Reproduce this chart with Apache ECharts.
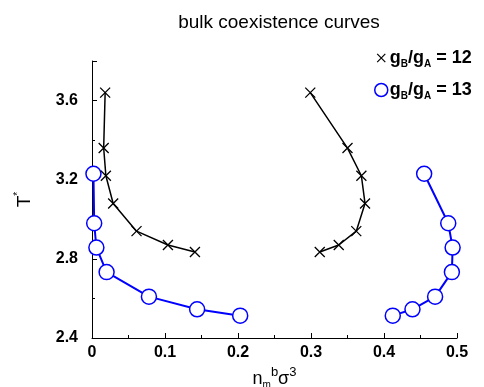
<!DOCTYPE html>
<html><head><meta charset="utf-8">
<script src="https://cdn.jsdelivr.net/npm/echarts@6/dist/echarts.min.js"></script>
<style>html,body{margin:0;padding:0;background:#fff}#c{width:484px;height:387px}</style>
</head><body><div id="c"></div>
<script>
// g_B/g_A = 12 (black crosses)
const T12 = [3.64, 3.36, 3.22, 3.08, 2.94, 2.87, 2.835];
const n12Left = [0.018, 0.016, 0.019, 0.029, 0.061, 0.104, 0.141];
const n12Right = [0.299, 0.350, 0.369, 0.374, 0.362, 0.338, 0.312];
// g_B/g_A = 13 (blue circles)
const T13 = [3.23, 2.98, 2.857, 2.733, 2.609, 2.545, 2.513];
const n13Left = [0.002, 0.003, 0.006, 0.020, 0.078, 0.144, 0.203];
const n13Right = [0.455, 0.488, 0.494, 0.493, 0.470, 0.439, 0.412];
const xTicks = [0, 0.1, 0.2, 0.3, 0.4, 0.5];
const yTicks = [2.4, 2.8, 3.2, 3.6];

const pairs = (xs, ys) => xs.map((x, i) => [x, ys[i]]);
const FONT = 'Liberation Sans';
const crossPath = 'path://M0,0L10,10M10,0L0,10';
const crossIcon = 'path://M-3,-3M0,0L10,10M10,0L0,10M13,13';
const name12 = 'g12', name13 = 'g13';

const crossSeries = (data) => ({
  name: name12, type: 'line', data,
  symbol: crossPath, symbolSize: 10, showSymbol: true,
  lineStyle: { color: '#000', width: 1.5 },
  itemStyle: { color: '#000', borderColor: '#000', borderWidth: 1.3 },
  z: 3
});
const circSeries = (data) => ({
  name: name13, type: 'line', data,
  symbol: 'circle', symbolSize: 15, showSymbol: true,
  lineStyle: { color: '#0000ff', width: 2 },
  itemStyle: { color: '#fff', borderColor: '#0000ff', borderWidth: 1.5 },
  z: 2
});

const chart = echarts.init(document.getElementById('c'));
chart.setOption({
  animation: false,
  textStyle: { fontFamily: FONT },
  title: {
    text: 'bulk coexistence curves', left: 274, top: 8, textAlign: 'center',
    textStyle: { fontFamily: FONT, fontSize: 19, fontWeight: 'normal', color: '#000' }
  },
  legend: {
    left: 369, top: 44, orient: 'vertical', itemGap: 12, itemWidth: 13, itemHeight: 13,
    data: [
      { name: name12, icon: crossIcon, itemStyle: { color: '#000', borderColor: '#000', borderWidth: 1.2 } },
      { name: name13, icon: 'circle', itemStyle: { color: '#fff', borderColor: '#0000ff', borderWidth: 1.5 } }
    ],
    formatter: (n) => n === name12 ? '{b|g}{s|B}{b|/g}{s|A}{b| = 12}' : '{b|g}{s|B}{b|/g}{s|A}{b| = 13}',
    textStyle: {
      fontFamily: FONT, color: '#000', padding: [0, 0, 0, -3],
      rich: {
        b: { fontFamily: FONT, fontSize: 18, fontWeight: 'bold', color: '#000' },
        s: { fontFamily: FONT, fontSize: 10, fontWeight: 'bold', color: '#000', padding: [12, 0, 0, 0] }
      }
    }
  },
  grid: { left: 92, right: 27, top: 61, bottom: 49, containLabel: false, outerBoundsMode: 'none' },
  xAxis: {
    type: 'value', min: xTicks[0], max: xTicks[xTicks.length - 1], interval: 0.1,
    name: '{t|n}{sub|m}{sup|b}{t|σ}{sup|3}', nameLocation: 'middle', nameGap: 26,
    nameTextStyle: {
      rich: {
        t: { fontFamily: FONT, fontSize: 18, color: '#000' },
        sub: { fontFamily: FONT, fontSize: 10, color: '#000', padding: [12, 0, 0, 0] },
        sup: { fontFamily: FONT, fontSize: 13, color: '#000', padding: [0, 0, 14, 0] }
      }
    },
    axisLine: { lineStyle: { color: '#000', width: 1 } },
    axisTick: { inside: true, length: 5, lineStyle: { color: '#000' } },
    minorTick: { show: true, splitNumber: 2, length: 3, lineStyle: { color: '#000' } },
    axisLabel: { fontFamily: FONT, fontSize: 16, fontWeight: 'bold', color: '#000', margin: 7,
      formatter: (v) => xTicks.some(t => Math.abs(t - v) < 1e-9) ? String(+v.toFixed(1)) : '' },
    splitLine: { show: false }
  },
  yAxis: {
    type: 'value', min: yTicks[0], max: 3.8, interval: 0.4,
    name: '{t|T}{sup|*}', nameLocation: 'middle', nameGap: 55, nameRotate: 90,
    nameTextStyle: {
      rich: {
        t: { fontFamily: FONT, fontSize: 19, color: '#000' },
        sup: { fontFamily: FONT, fontSize: 10, color: '#000', padding: [0, 0, 14, 0] }
      }
    },
    axisLine: { show: true, lineStyle: { color: '#000', width: 1 } },
    axisTick: { show: true, inside: true, length: 5, lineStyle: { color: '#000' } },
    minorTick: { show: true, splitNumber: 2, length: 3, lineStyle: { color: '#000' } },
    axisLabel: { fontFamily: FONT, fontSize: 16, fontWeight: 'bold', color: '#000', margin: 14,
      formatter: (v) => yTicks.some(t => Math.abs(t - v) < 1e-9) ? v.toFixed(1) : '' },
    splitLine: { show: false }
  },
  series: [
    circSeries(pairs(n13Left, T13)),
    circSeries(pairs(n13Right, T13)),
    crossSeries(pairs(n12Left, T12)),
    crossSeries(pairs(n12Right, T12))
  ]
});
</script></body></html>
